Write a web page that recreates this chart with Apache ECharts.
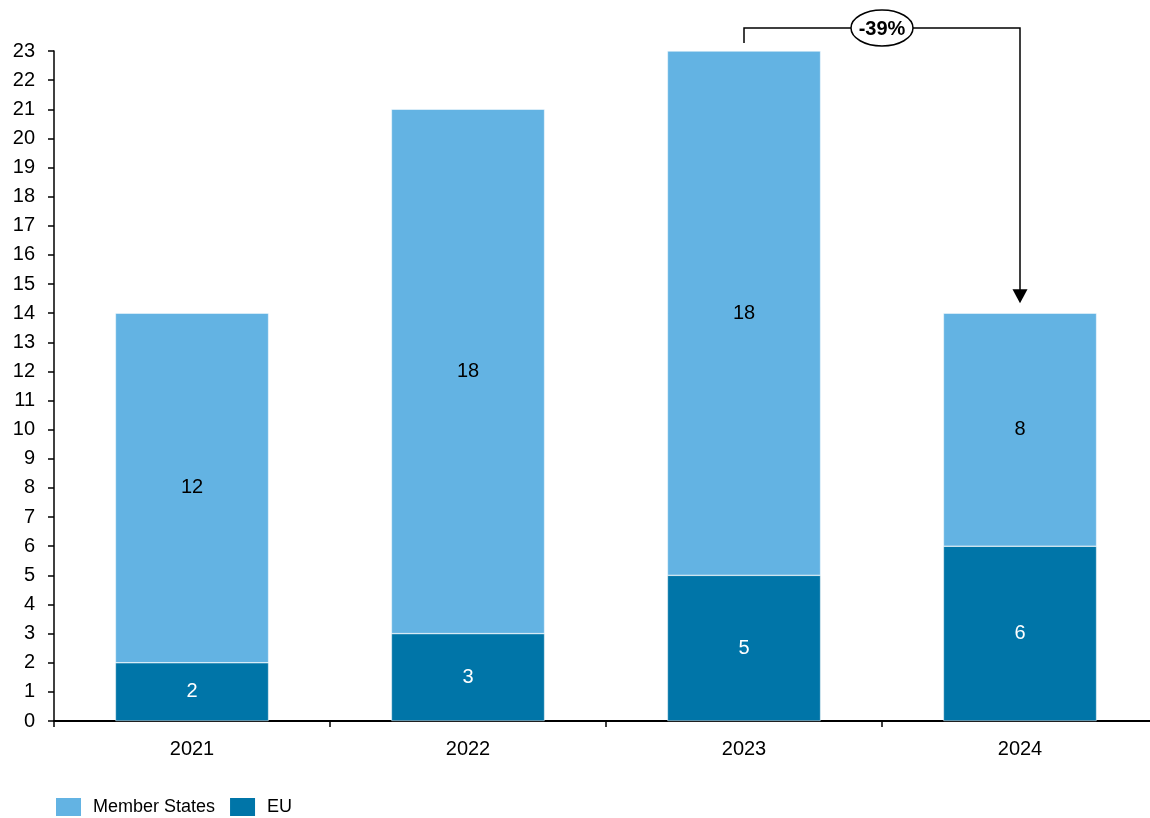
<!DOCTYPE html>
<html>
<head>
<meta charset="utf-8">
<script src="https://cdn.jsdelivr.net/npm/echarts@6/dist/echarts.min.js"></script>
<style>
  html, body { margin: 0; padding: 0; background: #fff; overflow: hidden; }
  #chart { width: 1158px; height: 818px; }
</style>
</head>
<body>
<div id="chart"></div>
<script>
// Stacked totals per year
const years = ['2021', '2022', '2023', '2024'];
const euValues = [2, 3, 5, 6];
const memberStatesValues = [12, 18, 18, 8];
const changeLabel = '-39%';

const FONT = '"Liberation Sans", Arial, sans-serif';
const chart = echarts.init(document.getElementById('chart'));

chart.setOption({
  animation: false,
  textStyle: { fontFamily: FONT },
  grid: { left: 54, right: 0, top: 51, bottom: 97, containLabel: false },
  legend: {
    left: 54, top: 796, padding: 0,
    itemWidth: 27, itemHeight: 20, itemGap: 13,
    icon: 'rect',
    textStyle: { fontSize: 18, color: '#000', fontFamily: FONT, padding: [0, 0, 0, 6] },
    data: ['Member States', 'EU']
  },
  xAxis: {
    type: 'category',
    data: years,
    axisLine: { lineStyle: { color: '#000', width: 2 } },
    axisTick: { show: true, length: 6, lineStyle: { color: '#000', width: 1.5 } },
    axisLabel: { color: '#000', fontSize: 20, margin: 18, fontFamily: FONT }
  },
  yAxis: {
    type: 'value',
    min: 0, max: 23, interval: 1,
    splitLine: { show: false },
    axisLine: { show: true, lineStyle: { color: '#000', width: 1.5 } },
    axisTick: { show: true, length: 6, lineStyle: { color: '#000', width: 1.5 } },
    axisLabel: { color: '#000', fontSize: 20, margin: 19, fontFamily: FONT }
  },
  series: [
    {
      name: 'EU', type: 'bar', stack: 'total', barWidth: '55.5%',
      data: euValues,
      itemStyle: { color: '#0075A8', borderColor: '#ffffff', borderWidth: 0.5 },
      label: { show: true, position: 'inside', color: '#fff', fontSize: 20, fontFamily: FONT }
    },
    {
      name: 'Member States', type: 'bar', stack: 'total',
      data: memberStatesValues,
      itemStyle: { color: '#63B3E3', borderColor: '#ffffff', borderWidth: 0.5 },
      label: { show: true, position: 'inside', color: '#000', fontSize: 20, fontFamily: FONT }
    }
  ]
});

// Change bracket from 2023 total down to 2024 total
function drawBracket() {
  const total = (i) => euValues[i] + memberStatesValues[i];
  const from = chart.convertToPixel({ xAxisIndex: 0, yAxisIndex: 0 }, [years[2], total(2)]);
  const to = chart.convertToPixel({ xAxisIndex: 0, yAxisIndex: 0 }, [years[3], total(3)]);
  const topY = from[1] - 23;
  const midX = (from[0] + to[0]) / 2;
  chart.setOption({
    graphic: [
      {
        type: 'polyline', z: 10,
        shape: { points: [[from[0], from[1] - 8], [from[0], topY], [to[0], topY], [to[0], to[1] - 22]] },
        style: { stroke: '#000', lineWidth: 1.5, fill: null }
      },
      {
        type: 'polygon', z: 10,
        shape: { points: [[to[0] - 7.5, to[1] - 24], [to[0] + 7.5, to[1] - 24], [to[0], to[1] - 10]] },
        style: { fill: '#000' }
      },
      {
        type: 'ellipse', z: 11,
        shape: { cx: midX, cy: topY, rx: 31, ry: 18 },
        style: { fill: '#fff', stroke: '#000', lineWidth: 1.5 }
      },
      {
        type: 'text', z: 12,
        x: midX, y: topY + 1,
        style: {
          text: changeLabel, fontSize: 20, fontWeight: 'bold', fontFamily: FONT,
          fill: '#000', align: 'center', verticalAlign: 'middle'
        }
      }
    ]
  });
}
drawBracket();
</script>
</body>
</html>
